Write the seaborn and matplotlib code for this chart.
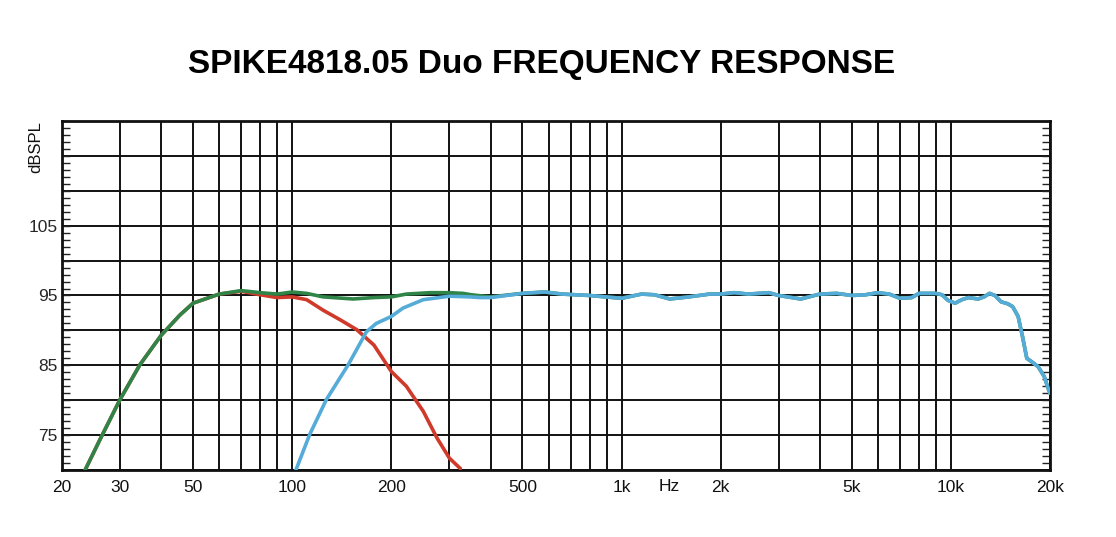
import numpy as np
import pandas as pd
import seaborn as sns
import matplotlib
matplotlib.use("Agg")
from matplotlib import pyplot as plt
from matplotlib.ticker import FixedLocator

sns.set_style("white")
plt.rcParams['font.family'] = ['Liberation Sans', 'DejaVu Sans']

# woofer (red)
woofer_hz = [23.5, 26.1, 30, 34.5, 40, 45.6, 50, 60, 70, 80, 90, 100, 110.6,
             124, 140, 157, 177, 200, 222, 250, 275, 300, 324]
woofer_db = [70.0, 74.4, 80.1, 85.1, 89.3, 92.2, 93.9, 95.2, 95.6, 95.1, 94.7,
             94.8, 94.4, 92.9, 91.5, 90.1, 87.9, 84.1, 82.0, 78.4, 74.6, 71.7,
             70.2]

# tweeter (blue)
tweeter_hz = [102.6, 113, 127, 148, 168, 180, 200, 217, 250, 300, 346, 372,
              400, 500, 584, 660, 800, 1000, 1150, 1260, 1400, 1600, 1850,
              2000, 2200, 2430, 2800, 3000, 3500, 4000, 4500, 5000, 5500, 6000,
              6500, 7000, 7600, 8000, 9000, 9400, 9800, 10300, 10800, 11300,
              12100, 12600, 13100, 13600, 14200, 14900, 15400, 16000, 16500,
              17000, 17600, 18400, 19200, 19800, 20000]
tweeter_db = [70.0, 75.1, 80.1, 85.1, 89.8, 91.0, 92.0, 93.2, 94.4, 94.9, 94.8,
              94.7, 94.7, 95.3, 95.5, 95.2, 95.0, 94.6, 95.2, 95.1, 94.5, 94.8,
              95.2, 95.2, 95.4, 95.2, 95.4, 95.0, 94.5, 95.2, 95.3, 95.0, 95.1,
              95.4, 95.2, 94.6, 94.7, 95.3, 95.3, 95.1, 94.3, 93.9, 94.4, 94.7,
              94.5, 94.8, 95.3, 95.0, 94.1, 93.8, 93.4, 92.0, 89.1, 86.0, 85.5,
              84.8, 83.4, 81.5, 81.0]

# sum (green)
sum_hz = [23.5, 26.1, 30, 34.5, 40, 45.6, 50, 60, 70, 80, 90, 100, 110.6,
          124, 153, 177, 200, 222, 262, 300, 330, 350, 400, 500, 584, 660,
          800, 1000, 1150, 1260, 1400, 1600, 1850, 2000, 2200, 2430, 2800,
          3000, 3500, 4000, 4500, 5000, 5500, 6000, 6500, 7000, 7600, 8000,
          9000, 9400, 9800, 10300, 10800, 11300, 12100, 12600, 13100, 13600,
          14200, 14900, 15400, 16000, 16500, 17000, 17600, 18400, 19200,
          19800, 20000]
sum_db = [70.0, 74.4, 80.1, 85.1, 89.3, 92.2, 93.9, 95.2, 95.7, 95.4, 95.2,
          95.5, 95.3, 94.8, 94.5, 94.7, 94.8, 95.2, 95.4, 95.4, 95.3, 95.1,
          94.8, 95.3, 95.5, 95.2, 95.0, 94.6, 95.2, 95.1, 94.5, 94.8, 95.2,
          95.2, 95.4, 95.2, 95.4, 95.0, 94.5, 95.2, 95.3, 95.0, 95.1, 95.4,
          95.2, 94.6, 94.7, 95.3, 95.3, 95.1, 94.3, 93.9, 94.4, 94.7, 94.5,
          94.8, 95.3, 95.0, 94.1, 93.8, 93.4, 92.0, 89.1, 86.0, 85.5, 84.8,
          83.4, 81.5, 81.0]

x_labels = {20: "20", 30: "30", 50: "50", 100: "100", 200: "200", 500: "500",
            1000: "1k", 2000: "2k", 5000: "5k", 10000: "10k", 20000: "20k"}
y_labels = [75, 85, 95, 105]

fig = plt.figure(figsize=(11.16, 5.37), dpi=100)
ax = fig.add_axes([0.0556, 0.1248, 0.8853, 0.6499])

woofer = pd.DataFrame({"hz": woofer_hz, "db": woofer_db})
tweeter = pd.DataFrame({"hz": tweeter_hz, "db": tweeter_db})
total = pd.DataFrame({"hz": sum_hz, "db": sum_db})

sns.lineplot(data=woofer, x="hz", y="db", ax=ax, color="#d03a2a", lw=2.6,
             sort=False, solid_joinstyle="round", solid_capstyle="round",
             zorder=3)
sns.lineplot(data=total, x="hz", y="db", ax=ax, color="#2f8548", lw=2.6,
             sort=False, solid_joinstyle="round", solid_capstyle="round",
             zorder=4)
sns.lineplot(data=tweeter, x="hz", y="db", ax=ax, color="#55acd8", lw=2.6,
             sort=False, solid_joinstyle="round", solid_capstyle="round",
             zorder=5)

ax.set_xscale("log")
ax.set_xlim(20, 20000)
ax.set_ylim(70, 120)

# grid at every log subdivision
grid_x = [m * 10 ** d for d in range(1, 5) for m in range(1, 10)]
grid_x = [g for g in grid_x if 20 <= g <= 20000]
ax.xaxis.set_major_locator(FixedLocator(grid_x))
ax.set_xticklabels([x_labels.get(g, "") for g in grid_x])
ax.xaxis.set_minor_locator(FixedLocator([]))
ax.tick_params(axis="x", which="both", length=0, labelsize=12.5, pad=7,
               colors="#111111")

yt = list(range(70, 121, 5))
ax.yaxis.set_major_locator(FixedLocator(yt))
ax.yaxis.set_minor_locator(FixedLocator(list(range(70, 121))))
ax.set_yticklabels([str(v) if v in y_labels else "" for v in yt])
ax.tick_params(axis="y", which="both", direction="in", left=True, right=True,
               length=6, width=1.0, color="#222222", labelsize=12.5, pad=3)

ax.grid(True, which="major", color="#111111", lw=1.4)
for s in ax.spines.values():
    s.set_color("#111111")
    s.set_linewidth(2)
ax.set_xlabel("")
ax.set_ylabel("")

ax.text(1400, -0.025, "Hz", transform=ax.get_xaxis_transform(), ha="center",
        va="top", fontsize=12.5, color="#111111")
fig.text(0.032, 0.775, "dBSPL", rotation=90, ha="center", va="top",
         fontsize=12, color="#111111")
fig.text(0.485, 0.88, "SPIKE4818.05 Duo FREQUENCY RESPONSE", ha="center",
         va="center", fontsize=24, fontweight="bold", color="black")

fig.savefig("out.png", dpi=100, facecolor="white")
